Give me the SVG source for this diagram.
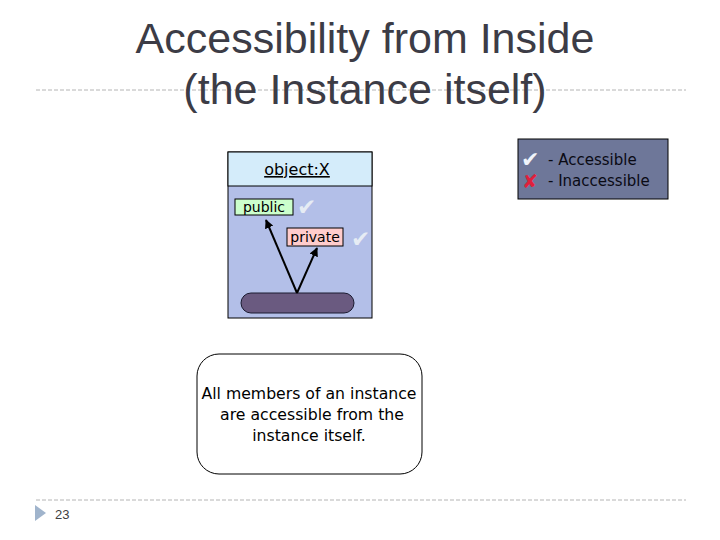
<svg xmlns="http://www.w3.org/2000/svg" width="720" height="540" viewBox="0 0 720 540">
<defs>
<style>
.title{font-family:"Liberation Sans",Arial,sans-serif;font-size:43px;fill:#3c3c46;text-anchor:middle}
.dash{stroke:#b4b4b4;stroke-width:1;stroke-dasharray:4 2;fill:none}
.lbl{font-family:"DejaVu Sans",Verdana,sans-serif;font-size:14px;fill:#000;text-anchor:middle}
.chk{font-family:"DejaVu Sans",sans-serif;font-size:23px;fill:#e6ecf4}
.leg{font-family:"DejaVu Sans",Verdana,sans-serif;font-size:15px;fill:#0a0a14}
.note{font-family:"DejaVu Sans",Verdana,sans-serif;font-size:15.7px;fill:#000;text-anchor:middle}
.conn{stroke:#000;stroke-width:2;fill:none;marker-end:url(#ah)}
</style>
<marker id="ah" viewBox="0 0 10 10" refX="9" refY="5" markerWidth="4.5" markerHeight="4.5" orient="auto">
<path d="M0,0 L10,5 L0,10 z" fill="#000"/>
</marker>
</defs>
<rect width="720" height="540" fill="#fff"/>
<g id="title">
<line class="dash" x1="36" y1="90" x2="686" y2="90"/>
<text class="title" x="365" y="53">Accessibility from Inside</text>
<text class="title" x="365" y="104">(the Instance itself)</text>
</g>
<g id="object">
<rect x="228" y="152" width="144" height="166" fill="#b3bfe8" stroke="#000" stroke-width="1"/>
<rect x="228" y="152" width="144" height="34" fill="#d4ecfa" stroke="#000" stroke-width="1"/>
<text class="lbl" x="297" y="175" style="font-size:16px;text-decoration:underline">object:X</text>
</g>
<g id="public">
<rect x="235" y="199" width="58" height="16" fill="#ccffcc" stroke="#000" stroke-width="1"/>
<text class="lbl" x="264" y="212">public</text>
<text class="chk" x="297" y="215">✔</text>
</g>
<g id="private">
<rect x="287" y="228" width="56" height="18" fill="#ffcccc" stroke="#000" stroke-width="1"/>
<text class="lbl" x="315" y="242">private</text>
<text class="chk" x="351" y="247">✔</text>
</g>
<g id="instance">
<rect x="241" y="293" width="113" height="20" rx="10" ry="10" fill="#6a5a80" stroke="#1a1a30" stroke-width="1"/>
</g>
<g id="connectors">
<line class="conn" x1="297" y1="293" x2="266" y2="220"/>
<line class="conn" x1="297" y1="293" x2="317" y2="248"/>
</g>
<g id="legend">
<rect x="518" y="139" width="150" height="60" fill="#6e7799" stroke="#000" stroke-width="1"/>
<text class="chk" x="521" y="167" style="fill:#f0f4fa;font-size:22px">✔</text>
<text class="leg" x="548" y="165">- Accessible</text>
<text x="522" y="188" style="font-family:'DejaVu Sans',sans-serif;font-size:19px;fill:#e0203c;font-weight:bold">✘</text>
<text class="leg" x="548" y="186">- Inaccessible</text>
</g>
<g id="note">
<rect x="197" y="354" width="225" height="120" rx="22" ry="22" fill="#fff" stroke="#000" stroke-width="1"/>
<text class="note" x="309" y="399">All members of an instance</text>
<text class="note" x="312" y="420">are accessible from the</text>
<text class="note" x="309" y="441">instance itself.</text>
</g>
<g id="footer">
<line class="dash" x1="36" y1="500" x2="686" y2="500"/>
<path d="M35,505 L46,513 L35,521 z" fill="#a0b4cc"/>
<text x="55" y="519" style="font-family:'Liberation Sans',Arial,sans-serif;font-size:13px;fill:#404040">23</text>
</g>
</svg>
